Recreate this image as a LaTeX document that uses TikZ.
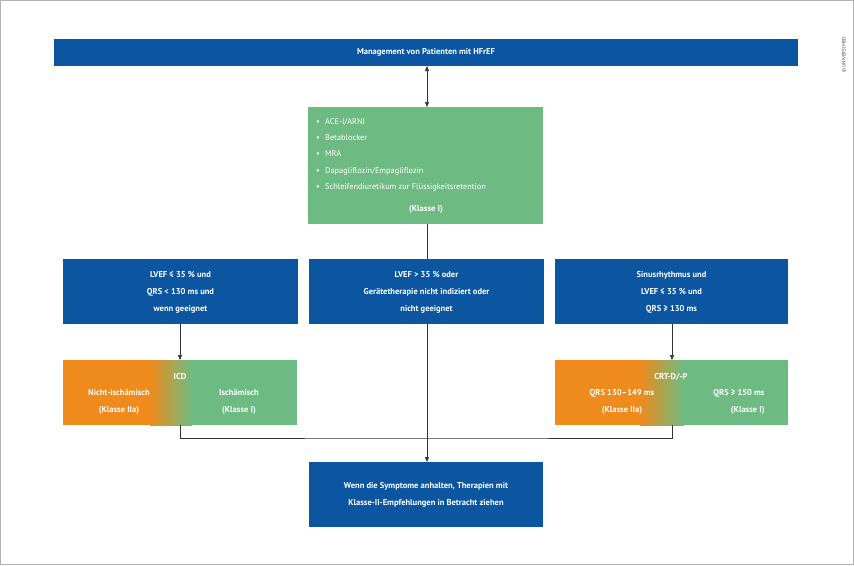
\documentclass[tikz,border=0pt]{standalone}
\usepackage{fontspec}
\setmainfont{PT Sans}
\usetikzlibrary{arrows.meta}
\definecolor{bl}{HTML}{0B55A1}
\definecolor{gr}{HTML}{6DBB82}
\definecolor{orr}{HTML}{EF8A1C}
\begin{document}
\begin{tikzpicture}[x=1pt,y=-1pt,
  box/.style={fill=bl,text=white,font=\fontsize{8.5}{11}\selectfont\bfseries,align=center,inner sep=0},
  wt/.style={text=white,font=\fontsize{8.5}{11}\selectfont\bfseries,align=center,inner sep=0},
  ln/.style={draw=black!80,line width=0.6pt},
  arr/.style={ln,-{Triangle[length=5pt,width=4pt]}}]
\draw[black!30,fill=white] (0.5,0.5) rectangle (853.5,564.5);
\useasboundingbox (0,0) rectangle (854,565);
\node[rotate=90,font=\fontsize{5}{6}\selectfont,text=black!70] (cr) at (844,55) {© UNIVERSIMED};
% top
\fill[bl] (54,39) rectangle (798,66);
\node[wt] (top) at (426,52.5) {Management von Patienten mit HFrEF};
\coordinate (topb) at (427,66);
% green
\fill[gr] (308,107) rectangle (543,224);
\node[wt,anchor=north west,align=left,font=\fontsize{8.3}{16.3}\selectfont] (med) at (316,118) {•\hspace{3pt} ACE-I/ARNI\\•\hspace{3pt} Betablocker\\•\hspace{3pt} MRA\\•\hspace{3pt} Dapagliflozin/Empagliflozin\\•\hspace{3pt} Schleifendiuretikum zur Flüssigkeitsretention};
\node[wt] (kl) at (426,209) {(Klasse I)};
\coordinate (gt) at (427,107);
\coordinate (gb) at (427,224);
\draw[ln,{Triangle[length=5pt,width=4pt]}-{Triangle[length=5pt,width=4pt]}] (topb) -- (gt);
% row 2
\fill[bl] (63,259) rectangle (298,324);
\fill[bl] (309,259) rectangle (544,324);
\fill[bl] (555,259) rectangle (788,324);
\node[wt,font=\fontsize{8.5}{17}\selectfont\bfseries] (b1) at (180.5,292) {LVEF ≤ 35 \% und\\QRS < 130 ms und\\wenn geeignet};
\node[wt,font=\fontsize{8.5}{17}\selectfont\bfseries] (b2) at (426.5,292) {LVEF > 35 \% oder\\Gerätetherapie nicht indiziert oder\\nicht geeignet};
\node[wt,font=\fontsize{8.5}{17}\selectfont\bfseries] (b3) at (671.5,292) {Sinusrhythmus und\\LVEF ≤ 35 \% und\\QRS ≥ 130 ms};
\coordinate (b2t) at (427,259);
\draw[ln] (gb) -- (b2t);
% row 3
\fill[orr] (63,360) rectangle (150,425);
\shade[left color=orr,right color=gr] (150,360) rectangle (192,425);
\fill[gr] (192,360) rectangle (297,425);
\fill[orr] (555,360) rectangle (640,425);
\shade[left color=orr,right color=gr] (640,360) rectangle (684,425);
\fill[gr] (684,360) rectangle (788,425);
\node[wt] (icd) at (180,377) {ICD};
\node[wt,font=\fontsize{8.5}{17}\selectfont\bfseries] (ni) at (119,402) {Nicht-ischämisch\\(Klasse IIa)};
\node[wt,font=\fontsize{8.5}{17}\selectfont\bfseries] (is) at (239,402) {Ischämisch\\(Klasse I)};
\node[wt] (crt) at (671,377) {CRT-D/-P};
\node[wt,font=\fontsize{8.5}{17}\selectfont\bfseries] (q1) at (622,402) {QRS 130–149 ms\\(Klasse IIa)};
\node[wt,font=\fontsize{8.5}{17}\selectfont\bfseries,align=right] (q2) at (739,402) {QRS ≥ 150 ms\\(Klasse I)};
\coordinate (b1b) at (180,324); \coordinate (icdt) at (180,360);
\coordinate (b3b) at (672,324); \coordinate (crtt) at (672,360);
\draw[arr] (b1b) -- (icdt);
\draw[arr] (b3b) -- (crtt);
% bottom
\fill[bl] (309,462) rectangle (543,527);
\node[wt,font=\fontsize{8.5}{17}\selectfont\bfseries] (bot) at (426,495) {Wenn die Symptome anhalten, Therapien mit\\Klasse-II-Empfehlungen in Betracht ziehen};
\coordinate (b2b) at (427,324); \coordinate (bott) at (427,462);
\draw[arr] (b2b) -- (bott);
\coordinate (icdb) at (180,425); \coordinate (crtb) at (672,425);
\draw[ln] (icdb) |- (427,438) -| (crtb);
\end{tikzpicture}
\end{document}
